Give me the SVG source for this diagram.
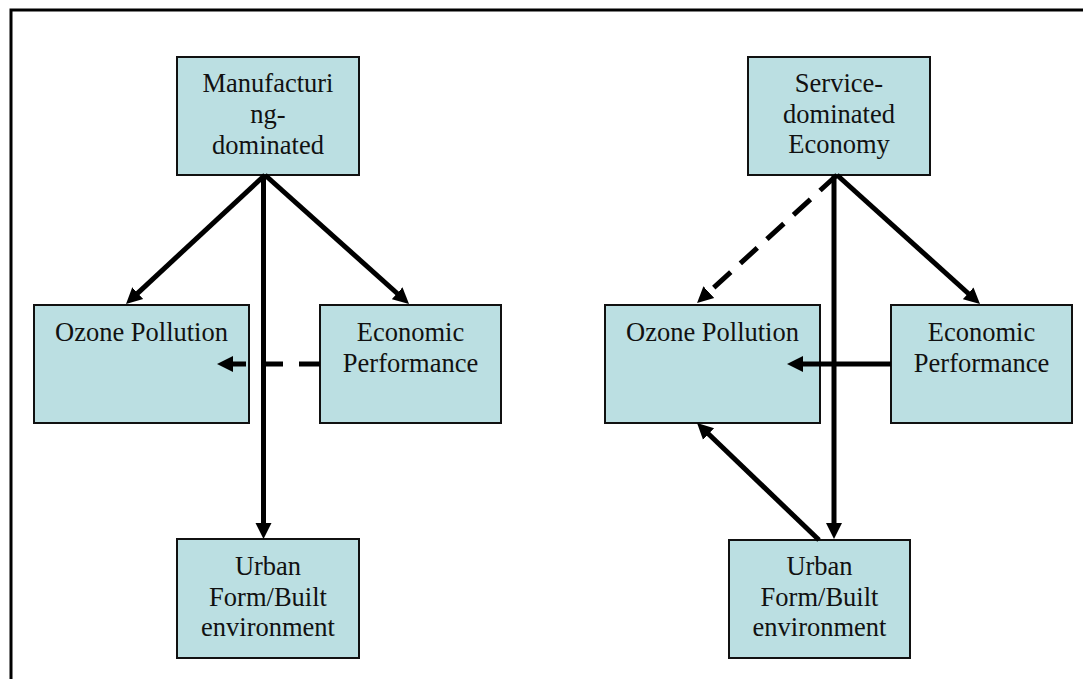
<svg xmlns="http://www.w3.org/2000/svg" width="1083" height="679" viewBox="0 0 1083 679">
<style>
.box{fill:#bbdfe2;stroke:#111;stroke-width:2}
.t{font-family:"Liberation Serif","Times New Roman",serif;font-size:26.5px;fill:#111;text-anchor:middle}
.c{stroke:#000;stroke-width:5;fill:none;marker-end:url(#ah)}
.d{stroke-dasharray:21 16}
.d2{stroke-dasharray:23 13}
</style>
<defs>
<marker id="ah" markerUnits="userSpaceOnUse" markerWidth="18" markerHeight="18" viewBox="0 -9 18 18" refX="4" refY="0" orient="auto">
<path d="M0,-8 L16,0 L0,8 z" fill="#000"/>
</marker>
</defs>
<rect x="0" y="0" width="1083" height="679" fill="#fff"/>
<rect x="11" y="10" width="1100" height="700" fill="none" stroke="#000" stroke-width="3"/>
<g id="manufacturing">
<rect class="box" x="177" y="57" width="182" height="118"/>
<text class="t" x="268" y="92">Manufacturi</text>
<text class="t" x="268" y="123">ng-</text>
<text class="t" x="268" y="154">dominated</text>
</g>
<g id="ozone-left">
<rect class="box" x="34" y="305" width="215" height="118"/>
<text class="t" x="141.5" y="341">Ozone Pollution</text>
</g>
<g id="econ-left">
<rect class="box" x="320" y="305" width="181" height="118"/>
<text class="t" x="410.5" y="341">Economic</text>
<text class="t" x="410.5" y="372">Performance</text>
</g>
<g id="urban-left">
<rect class="box" x="177" y="539" width="182" height="119"/>
<text class="t" x="268" y="575">Urban</text>
<text class="t" x="268" y="606">Form/Built</text>
<text class="t" x="268" y="636">environment</text>
</g>
<g id="service">
<rect class="box" x="748" y="57" width="182" height="118"/>
<text class="t" x="839" y="92">Service-</text>
<text class="t" x="839" y="123">dominated</text>
<text class="t" x="839" y="153">Economy</text>
</g>
<g id="ozone-right">
<rect class="box" x="605" y="305" width="215" height="118"/>
<text class="t" x="712.5" y="341">Ozone Pollution</text>
</g>
<g id="econ-right">
<rect class="box" x="891" y="305" width="181" height="118"/>
<text class="t" x="981.5" y="341">Economic</text>
<text class="t" x="981.5" y="372">Performance</text>
</g>
<g id="urban-right">
<rect class="box" x="729" y="540" width="181" height="118"/>
<text class="t" x="819.5" y="575">Urban</text>
<text class="t" x="819.5" y="606">Form/Built</text>
<text class="t" x="819.5" y="636">environment</text>
</g>
<g id="connectors">
<line class="c" x1="265" y1="175" x2="134.8" y2="295.8"/>
<line class="c" x1="265" y1="175" x2="400.1" y2="296"/>
<line class="c" x1="263.5" y1="175" x2="263.5" y2="527"/>
<line class="c d" x1="320" y1="364" x2="229" y2="364"/>
<line class="c d2" x1="837" y1="175" x2="705.9" y2="294.9"/>
<line class="c" x1="837" y1="175" x2="971.1" y2="296"/>
<line class="c" x1="834" y1="175" x2="834" y2="527"/>
<line class="c" x1="891" y1="364" x2="799" y2="364"/>
<line class="c" x1="819" y1="540" x2="705.7" y2="431.3"/>
</g>
</svg>
